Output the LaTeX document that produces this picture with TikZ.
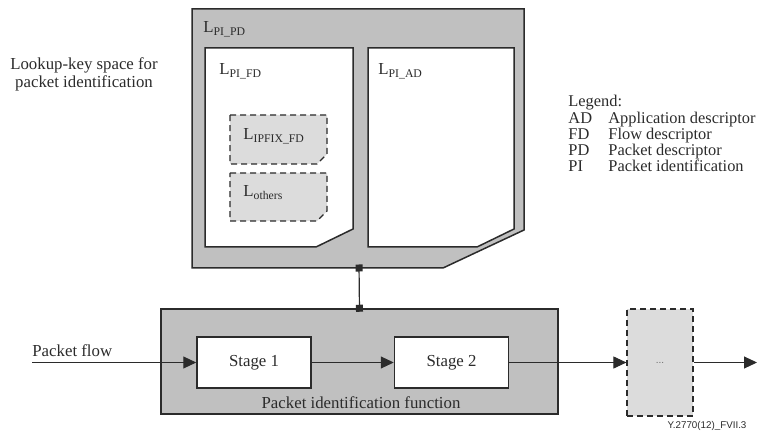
\documentclass[tikz,border=0pt]{standalone}
\usepackage{fontspec}
\setmainfont{Liberation Serif}
\newfontfamily\idfont{Liberation Sans}
\usetikzlibrary{arrows.meta,positioning}
\definecolor{pdgray}{HTML}{C0C0C0}
\definecolor{ldgray}{HTML}{DCDCDC}
\definecolor{lncol}{HTML}{2B2B2B}
\begin{document}
\begin{tikzpicture}[x=0.5pt,y=-0.5pt,
  font=\fontsize{8.4}{9}\selectfont,
  space/.style={draw=lncol,line width=0.75pt},
  sub/.style={draw=lncol,line width=0.6pt,dash pattern=on 3pt off 2pt,fill=ldgray},
  lbl/.style={anchor=base west,inner sep=0pt,text=lncol},
  stagebox/.style={draw=lncol,line width=0.75pt,fill=white,minimum width=57pt,minimum height=25.5pt,inner sep=0pt,text=lncol},
  flow/.style={draw=lncol,line width=0.5pt,-{Triangle[length=6.5pt,width=6pt]}},
  link/.style={draw=lncol,line width=0.6pt,{Square[length=3.5pt,width=3.5pt]}-{Square[length=3.5pt,width=3.5pt]}}]
\useasboundingbox (0,0) rectangle (758,442);
% lookup-key spaces
\draw[space,fill=pdgray] (192,9) -- (524,9) -- (524,230) -- (443,268) -- (192,268) -- cycle;
\coordinate (pdbot) at (359,268);
\draw[space,fill=white] (205,48) -- (353,48) -- (353,229) -- (316,247) -- (205,247) -- cycle;
\draw[space,fill=white] (368,48) -- (514,48) -- (514,229) -- (477,247) -- (368,247) -- cycle;
\draw[sub] (230,115) -- (327,115) -- (327,154) -- (317,164) -- (230,164) -- cycle;
\draw[sub] (230,173) -- (327,173) -- (327,211) -- (317,221) -- (230,221) -- cycle;
\node[lbl] (lpd) at (203,33) {L\textsubscript{PI\_PD}};
\node[lbl] (lfd) at (219,75) {L\textsubscript{PI\_FD}};
\node[lbl] (lad) at (378,75) {L\textsubscript{PI\_AD}};
\node[lbl] (lipfix) at (243,140) {L\textsubscript{IPFIX\_FD}};
\node[lbl] (lothers) at (243,197) {L\textsubscript{others}};
\node[align=center,inner sep=0pt,text=lncol] (keyspace) at (84,74) {Lookup-key space for\\packet identification};
% legend
\node[lbl,font=\fontsize{8.2}{8}\selectfont] (legend) at (568,107) {\begin{tabular}[t]{@{}p{20pt}@{}l@{}}
Legend:\\
AD & Application descriptor\\
FD & Flow descriptor\\
PD & Packet descriptor\\
PI & Packet identification
\end{tabular}};
% packet identification function
\node[draw=lncol,line width=0.75pt,fill=pdgray,minimum width=198.5pt,minimum height=52.5pt,inner sep=0pt] (pif) at (359.5,361.5) {};
\node[stagebox] (stage1) at (254,362.5) {Stage 1};
\node[stagebox] (stage2) at (451.5,362.5) {Stage 2};
\node[lbl,anchor=base] (piflabel) at (361,408) {Packet identification function};
\node[sub,minimum width=33pt,minimum height=53.5pt,inner sep=0pt,font=\idfont\fontsize{5}{6}\selectfont,text=lncol!70] (more) at (660,362.5) {...};
\draw[link] ([yshift=1.75pt]pdbot) -- ([yshift=-1.75pt]pif.north);
\coordinate (src) at (32,362.5);
\coordinate (sink) at (757,362.5);
\node[lbl] (pflow) at (32,357) {Packet flow};
\draw[flow] (src) -- (stage1);
\draw[flow] (stage1) -- (stage2);
\draw[flow] (stage2) -- (more);
\draw[flow] (more) -- (sink);
\node[font=\idfont\fontsize{4.9}{5}\selectfont,text=lncol,inner sep=0pt] (figid) at (707,426) {Y.2770(12)\_FVII.3};
\end{tikzpicture}
\end{document}
